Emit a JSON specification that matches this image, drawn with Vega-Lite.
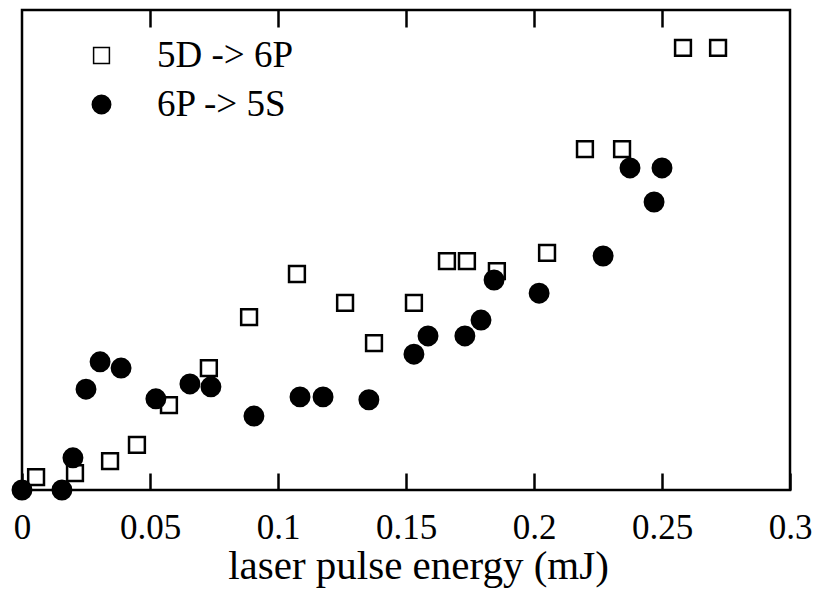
{
  "$schema": "https://vega.github.io/schema/vega-lite/v6.json",
  "width": 768,
  "height": 480,
  "autosize": {"type": "none"},
  "padding": {"left": 22, "top": 10, "right": 27, "bottom": 106},
  "background": "white",
  "config": {
    "view": {"stroke": "black", "strokeWidth": 2.5},
    "font": "Liberation Serif",
    "legend": {
      "title": null, "orient": "none", "legendX": 61, "legendY": 27,
      "labelFont": "Liberation Serif", "labelFontSize": 37, "labelColor": "black",
      "labelOffset": 37, "rowPadding": 11
    }
  },
  "data": {
    "values": [
      {"E": 0.0055, "I": 0.027, "series": "5D -> 6P"},
      {"E": 0.0207, "I": 0.035, "series": "5D -> 6P"},
      {"E": 0.0344, "I": 0.060, "series": "5D -> 6P"},
      {"E": 0.0449, "I": 0.094, "series": "5D -> 6P"},
      {"E": 0.0574, "I": 0.177, "series": "5D -> 6P"},
      {"E": 0.0730, "I": 0.254, "series": "5D -> 6P"},
      {"E": 0.0887, "I": 0.360, "series": "5D -> 6P"},
      {"E": 0.1074, "I": 0.450, "series": "5D -> 6P"},
      {"E": 0.1262, "I": 0.390, "series": "5D -> 6P"},
      {"E": 0.1375, "I": 0.306, "series": "5D -> 6P"},
      {"E": 0.1531, "I": 0.390, "series": "5D -> 6P"},
      {"E": 0.1660, "I": 0.477, "series": "5D -> 6P"},
      {"E": 0.1738, "I": 0.477, "series": "5D -> 6P"},
      {"E": 0.1855, "I": 0.456, "series": "5D -> 6P"},
      {"E": 0.2051, "I": 0.494, "series": "5D -> 6P"},
      {"E": 0.2199, "I": 0.710, "series": "5D -> 6P"},
      {"E": 0.2344, "I": 0.710, "series": "5D -> 6P"},
      {"E": 0.2582, "I": 0.921, "series": "5D -> 6P"},
      {"E": 0.2719, "I": 0.921, "series": "5D -> 6P"},
      {"E": 0.0000, "I": 0.000, "series": "6P -> 5S"},
      {"E": 0.0156, "I": 0.000, "series": "6P -> 5S"},
      {"E": 0.0199, "I": 0.067, "series": "6P -> 5S"},
      {"E": 0.0250, "I": 0.210, "series": "6P -> 5S"},
      {"E": 0.0305, "I": 0.267, "series": "6P -> 5S"},
      {"E": 0.0387, "I": 0.254, "series": "6P -> 5S"},
      {"E": 0.0523, "I": 0.190, "series": "6P -> 5S"},
      {"E": 0.0656, "I": 0.221, "series": "6P -> 5S"},
      {"E": 0.0738, "I": 0.215, "series": "6P -> 5S"},
      {"E": 0.0906, "I": 0.154, "series": "6P -> 5S"},
      {"E": 0.1086, "I": 0.194, "series": "6P -> 5S"},
      {"E": 0.1176, "I": 0.194, "series": "6P -> 5S"},
      {"E": 0.1355, "I": 0.188, "series": "6P -> 5S"},
      {"E": 0.1531, "I": 0.283, "series": "6P -> 5S"},
      {"E": 0.1586, "I": 0.321, "series": "6P -> 5S"},
      {"E": 0.1730, "I": 0.321, "series": "6P -> 5S"},
      {"E": 0.1793, "I": 0.354, "series": "6P -> 5S"},
      {"E": 0.1844, "I": 0.4375, "series": "6P -> 5S"},
      {"E": 0.2020, "I": 0.410, "series": "6P -> 5S"},
      {"E": 0.2270, "I": 0.4875, "series": "6P -> 5S"},
      {"E": 0.2375, "I": 0.671, "series": "6P -> 5S"},
      {"E": 0.2469, "I": 0.600, "series": "6P -> 5S"},
      {"E": 0.2500, "I": 0.671, "series": "6P -> 5S"}
    ]
  },
  "layer": [
    {
      "mark": {"type": "point", "stroke": "black", "strokeWidth": 2.5, "opacity": 1},
      "encoding": {
        "x": {
          "field": "E", "type": "quantitative",
          "scale": {"domain": [0, 0.3], "nice": false, "zero": false},
          "axis": {
            "orient": "bottom",
            "values": [0, 0.05, 0.1, 0.15, 0.2, 0.25, 0.3],
            "format": "~g",
            "domain": false, "grid": false,
            "ticks": true, "tickSize": -17, "tickWidth": 2.5, "tickColor": "black",
            "labelFont": "Liberation Serif", "labelFontSize": 35, "labelColor": "black",
            "labelFlush": false, "labelOverlap": false, "labelBound": false,
            "labelBaseline": "alphabetic", "labelPadding": 65,
            "title": "laser pulse energy (mJ)",
            "titleFont": "Liberation Serif", "titleFontSize": 41, "titleFontWeight": "normal", "titleColor": "black",
            "titleBaseline": "alphabetic", "titleAnchor": "start", "titleAlign": "center",
            "titleX": 396, "titleY": 88
          }
        },
        "y": {
          "field": "I", "type": "quantitative",
          "scale": {"domain": [0, 1], "nice": false, "zero": false},
          "axis": null
        },
        "shape": {
          "field": "series", "type": "nominal",
          "scale": {"domain": ["5D -> 6P", "6P -> 5S"], "range": ["square", "circle"]},
          "legend": {
            "encode": {"symbols": {"update": {"stroke": {"value": "black"}, "strokeWidth": {"value": 2.5}}}}
          }
        },
        "fill": {
          "field": "series", "type": "nominal",
          "scale": {"domain": ["5D -> 6P", "6P -> 5S"], "range": ["white", "black"]},
          "legend": {
            "encode": {"symbols": {"update": {"stroke": {"value": "black"}, "strokeWidth": {"value": 2.5}}}}
          }
        },
        "size": {
          "field": "series", "type": "ordinal",
          "scale": {"domain": ["5D -> 6P", "6P -> 5S"], "range": [250, 340]},
          "legend": {
            "encode": {"symbols": {"update": {"stroke": {"value": "black"}, "strokeWidth": {"value": 2.5}}}}
          }
        },
        "order": {"field": "series", "type": "nominal"}
      }
    },
    {
      "mark": {"type": "point", "opacity": 0},
      "encoding": {
        "x": {
          "field": "E", "type": "quantitative",
          "axis": {
            "orient": "top",
            "values": [0.05, 0.1, 0.15, 0.2, 0.25],
            "domain": false, "grid": false, "labels": false, "title": null,
            "ticks": true, "tickSize": -17, "tickWidth": 2.5, "tickColor": "black"
          }
        },
        "y": {"field": "I", "type": "quantitative"}
      }
    }
  ],
  "resolve": {"axis": {"x": "independent"}}
}
